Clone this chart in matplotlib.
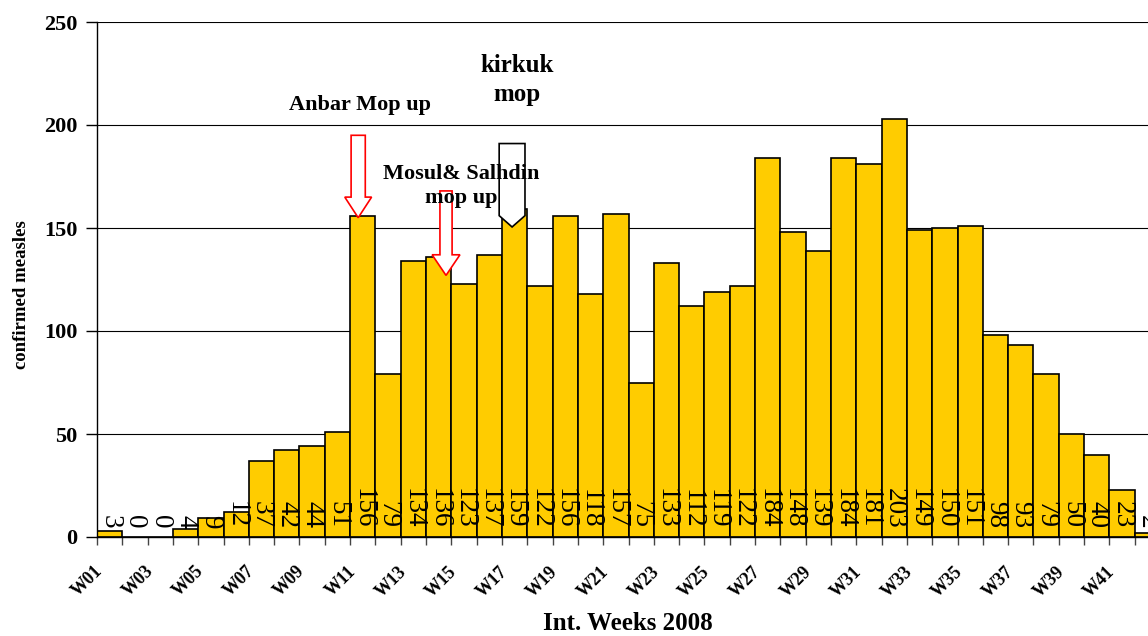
import matplotlib
matplotlib.use("Agg")
import matplotlib.pyplot as plt
import matplotlib.transforms as mtransforms
from matplotlib.patches import Polygon

# weekly confirmed measles, 2008
weeks = ["W%02d" % i for i in range(1, 43)]
cases = [3, 0, 0, 4, 9, 12, 37, 42, 44, 51,
         156, 79, 134, 136, 123, 137, 159, 122, 156, 118,
         157, 75, 133, 112, 119, 122, 184, 148, 139, 184,
         181, 203, 149, 150, 151, 98, 93, 79, 50, 40,
         23, 2]

plt.rcParams['font.family'] = ['Liberation Serif', 'DejaVu Serif']

fig = plt.figure(figsize=(11.48, 6.36), dpi=100)
ax = fig.add_axes([97 / 1148, 99 / 636, 1063 / 1148, 515 / 636])

x = list(range(len(cases)))
ax.bar(x, cases, width=1.0, color="#FFCC00", edgecolor="black", linewidth=1.2, zorder=2)

# value labels, written downwards just above the baseline
for xi, v in zip(x, cases):
    ax.text(xi, 4.2, str(v), rotation=-90, rotation_mode="anchor",
            ha="right", va="center", fontsize=19.5, zorder=4)

ax.set_xlim(-0.5, len(cases) - 0.5)
ax.set_ylim(0, 250)
ax.set_yticks(range(0, 251, 50))
ax.set_yticklabels([str(t) for t in range(0, 251, 50)], fontsize=16, fontweight="bold")
ax.tick_params(axis="y", length=8, width=1, direction="out", pad=6)

ax.set_xticks(x[::2])
ax.set_xticklabels(weeks[::2], rotation=45, ha="right", va="center",
                   rotation_mode="anchor", fontsize=13, fontweight="bold")
ax.tick_params(axis="x", which="major", length=0, pad=23)
shift = mtransforms.ScaledTranslation(-7 / 72, 0, fig.dpi_scale_trans)
for lab in ax.get_xticklabels():
    lab.set_transform(lab.get_transform() + shift)
ax.set_xticks([i - 0.5 for i in x] + [len(x) - 0.5], minor=True)
ax.tick_params(axis="x", which="minor", length=6, width=1, color="#444444")

for y in range(50, 251, 50):
    ax.axhline(y, color="black", linewidth=0.8, zorder=1)

for s in ["top", "right"]:
    ax.spines[s].set_visible(False)
ax.spines["left"].set_linewidth(1)
ax.spines["bottom"].set_linewidth(1)

fig.text(628 / 1148, 1 - 624 / 636, "Int. Weeks 2008", ha="center", va="center",
         fontsize=18, fontweight="bold")
fig.text(22 / 1148, 1 - 295 / 636, "confirmed measles", ha="center", va="center",
         rotation=90, fontsize=13.5, fontweight="bold")


def arrow(xc, ytop, yhead, ytip, shaft, head, edge):
    pts = [(xc - shaft, ytop), (xc + shaft, ytop), (xc + shaft, yhead),
           (xc + head, yhead), (xc, ytip), (xc - head, yhead), (xc - shaft, yhead)]
    ax.add_patch(Polygon(pts, closed=True, facecolor="white", edgecolor=edge,
                         linewidth=1.2, zorder=3, clip_on=False))


arrow(9.82, 195, 165, 155, 0.28, 0.53, "red")
arrow(13.29, 168, 137, 127, 0.24, 0.55, "red")
arrow(15.9, 191, 156, 150.5, 0.51, 0.51, "black")

ax.text(9.9, 209.5, "Anbar Mop up", ha="center", va="center", fontsize=16,
        fontweight="bold", zorder=5)
ax.text(13.9, 170.5, "Mosul& Salhdin\nmop up", ha="center", va="center", fontsize=16,
        fontweight="bold", linespacing=1.3, zorder=5)
ax.text(16.1, 222, "kirkuk\nmop", ha="center", va="center", fontsize=18,
        fontweight="bold", linespacing=1.35, zorder=5)

fig.savefig("out.png", dpi=100)
